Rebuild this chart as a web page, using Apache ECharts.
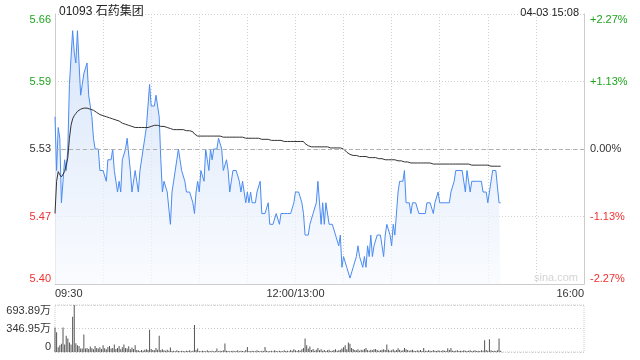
<!DOCTYPE html>
<html><head><meta charset="utf-8">
<script src="https://cdn.jsdelivr.net/npm/echarts@6/dist/echarts.min.js"></script>
<style>html,body{margin:0;padding:0;background:#fff}#c{width:640px;height:360px}</style>
</head><body><div id="c"></div>
<script>
const stockTitle = '01093 石药集团';
const stampText = '04-03 15:08';
const watermark = 'sina.com';
const prevClose = 5.53;
const priceMin = 5.4045, priceMax = 5.6555, priceStep = 0.06275;
const priceTicks = ['5.40', '5.47', '5.53', '5.59', '5.66'];
const pctTicks = ['-2.27%', '-1.13%', '0.00%', '+1.13%', '+2.27%'];
const volMax = 693.89, volStep = 346.945;
const volTicks = ['0', '346.95万', '693.89万'];
const timeLabels = { '09:30': '09:30', '12:00': '12:00/13:00', '16:00': '16:00' };

function hm(m) { const h = Math.floor(m / 60), mm = m % 60; return (h < 10 ? '0' : '') + h + ':' + (mm < 10 ? '0' : '') + mm; }
const times = [];
for (let m = 9 * 60 + 30; m <= 12 * 60; m++) times.push(hm(m));
for (let m = 13 * 60 + 1; m <= 16 * 60; m++) times.push(hm(m));

const price = [
5.56,5.51,5.55,5.54,5.48,5.48,5.52,5.51,5.53,5.59,
5.59,5.64,5.62,5.61,5.64,5.61,5.58,5.59,5.60,5.60,
5.61,5.58,5.57,5.56,5.54,5.53,5.53,5.53,5.51,5.51,
5.51,5.51,5.50,5.52,5.52,5.52,5.53,5.51,5.50,5.49,
5.50,5.49,5.52,5.52,5.53,5.54,5.54,5.51,5.49,5.49,
5.51,5.50,5.49,5.51,5.51,5.53,5.54,5.55,5.57,5.59,
5.57,5.57,5.57,5.58,5.57,5.56,5.52,5.49,5.50,5.50,
5.49,5.49,5.46,5.49,5.50,5.50,5.52,5.53,5.52,5.51,
5.51,5.50,5.49,5.49,5.49,5.49,5.48,5.47,5.49,5.50,
5.49,5.51,5.51,5.50,5.53,5.52,5.51,5.53,5.52,5.53,
5.53,5.53,5.54,5.54,5.53,5.51,5.51,5.52,5.51,5.49,
5.50,5.51,5.51,5.51,5.51,5.50,5.49,5.50,5.49,5.48,
5.49,5.48,5.49,5.48,5.48,5.48,5.49,5.49,5.50,5.47,
5.47,5.47,5.47,5.48,5.46,5.46,5.46,5.46,5.47,5.47,
5.46,5.47,5.47,5.47,5.47,5.47,5.47,5.47,5.47,5.48,
5.49,5.49,5.49,5.49,5.48,5.47,5.45,5.45,5.45,5.46,
5.46,5.47,5.47,5.48,5.50,5.48,5.46,5.48,5.46,5.48,
5.48,5.46,5.46,5.46,5.46,5.45,5.45,5.44,5.45,5.42,
5.43,5.43,5.42,5.42,5.41,5.41,5.42,5.42,5.43,5.44,
5.43,5.43,5.42,5.43,5.42,5.44,5.43,5.45,5.43,5.44,
5.44,5.45,5.45,5.45,5.44,5.43,5.45,5.46,5.46,5.45,
5.44,5.46,5.45,5.45,5.49,5.50,5.50,5.50,5.51,5.48,
5.48,5.48,5.47,5.48,5.48,5.48,5.48,5.47,5.47,5.47,
5.47,5.47,5.48,5.48,5.48,5.48,5.47,5.48,5.48,5.49,
5.48,5.48,5.48,5.48,5.48,5.48,5.48,5.49,5.49,5.50,
5.51,5.51,5.51,5.51,5.51,5.51,5.49,5.51,5.50,5.49,
5.50,5.50,5.50,5.50,5.50,5.50,5.50,5.49,5.49,5.49,
5.48,5.48,5.50,5.51,5.51,5.51,5.51,5.48,5.48
];

const avgPrice = [
5.470,5.500,5.509,5.506,5.504,5.504,5.509,5.515,5.522,5.540,
5.552,5.558,5.561,5.563,5.565,5.566,5.567,5.568,5.568,5.568,
5.568,5.568,5.567,5.567,5.566,5.565,5.564,5.563,5.562,5.562,
5.561,5.561,5.560,5.560,5.559,5.559,5.558,5.558,5.557,5.557,
5.556,5.555,5.554,5.554,5.553,5.553,5.552,5.552,5.551,5.551,
5.550,5.550,5.550,5.550,5.550,5.550,5.550,5.550,5.550,5.551,
5.551,5.551,5.552,5.552,5.552,5.552,5.551,5.551,5.551,5.551,
5.550,5.549,5.549,5.548,5.548,5.548,5.548,5.548,5.548,5.548,
5.548,5.548,5.547,5.547,5.547,5.547,5.546,5.544,5.543,5.542,
5.542,5.542,5.542,5.542,5.542,5.542,5.542,5.542,5.542,5.542,
5.542,5.542,5.542,5.542,5.542,5.541,5.541,5.541,5.541,5.541,
5.541,5.541,5.541,5.541,5.541,5.541,5.541,5.541,5.541,5.540,
5.540,5.540,5.540,5.540,5.540,5.540,5.540,5.540,5.539,5.539,
5.539,5.539,5.539,5.539,5.539,5.538,5.538,5.538,5.538,5.538,
5.538,5.538,5.538,5.537,5.537,5.537,5.537,5.537,5.537,5.537,
5.537,5.537,5.537,5.537,5.537,5.537,5.535,5.534,5.533,5.532,
5.532,5.532,5.532,5.532,5.532,5.532,5.532,5.532,5.532,5.532,
5.532,5.531,5.531,5.531,5.531,5.531,5.531,5.531,5.531,5.531,
5.530,5.529,5.527,5.526,5.525,5.524,5.524,5.524,5.524,5.523,
5.523,5.523,5.523,5.523,5.523,5.522,5.522,5.522,5.522,5.522,
5.522,5.521,5.521,5.521,5.521,5.521,5.520,5.520,5.520,5.520,
5.520,5.520,5.520,5.519,5.519,5.519,5.519,5.518,5.518,5.518,
5.518,5.517,5.517,5.517,5.517,5.517,5.517,5.517,5.517,5.517,
5.517,5.517,5.517,5.517,5.517,5.517,5.516,5.516,5.516,5.516,
5.516,5.516,5.516,5.516,5.516,5.516,5.516,5.516,5.516,5.516,
5.516,5.516,5.516,5.516,5.516,5.516,5.516,5.516,5.516,5.516,
5.515,5.515,5.515,5.515,5.515,5.515,5.515,5.515,5.515,5.515,
5.515,5.514,5.514,5.514,5.514,5.514,5.514,5.514,5.514
];

const volume = [
360,290,70,100,120,360,110,240,200,140,
110,520,694,130,100,90,50,50,260,50,
60,45,80,55,40,90,60,50,70,45,
100,55,40,75,90,50,60,110,45,60,
90,40,70,110,60,50,85,40,65,45,
100,30,25,15,30,20,35,40,30,330,
45,30,25,60,35,240,30,40,25,20,
35,20,65,15,20,10,25,15,10,20,
15,10,20,15,25,10,20,400,30,50,
15,10,20,15,10,25,15,10,20,10,
15,50,10,20,15,25,125,20,15,10,
15,20,10,15,25,10,20,15,10,30,
75,15,10,20,15,10,25,15,10,20,
15,75,20,10,15,20,10,25,15,10,
20,15,10,25,15,20,10,30,20,40,
25,15,30,20,40,60,200,100,50,80,
30,45,20,35,60,25,40,20,30,15,
25,35,15,20,30,40,20,25,35,50,
70,100,40,140,120,60,45,30,25,40,
20,35,25,45,60,30,20,35,25,40,
45,30,20,25,35,40,30,110,35,20,
25,40,20,30,55,35,20,25,60,40,
30,20,25,35,20,15,25,20,30,15,
60,20,15,25,20,15,30,20,15,25,
20,15,25,20,15,55,30,60,20,15,
20,25,15,20,15,25,20,15,20,25,
15,20,25,15,20,15,25,20,175,30,
20,190,25,15,20,15,25,200,20
];

const GREEN = '#1ea51e', RED = '#f03030', TXT = '#333';
const tickColors = [RED, RED, TXT, GREEN, GREEN];
const FONT = "'Liberation Sans', Arial, 'Noto Sans CJK SC', sans-serif";

const chart = echarts.init(document.getElementById('c'), null, { renderer: 'canvas' });
chart.setOption({
  animation: false,
  backgroundColor: '#fff',
  textStyle: { fontFamily: FONT },
  title: [
    { text: stockTitle, left: 54, top: 1, textStyle: { fontSize: 12, fontWeight: 'normal', color: '#222', fontFamily: FONT } },
    { text: stampText, right: 56, top: 2, textStyle: { fontSize: 11, fontWeight: 'normal', color: '#222', fontFamily: FONT } }
  ],
  graphic: [{
    type: 'text', right: 62, top: 272,
    style: { text: watermark, fill: '#d4d4d4', font: '11px ' + FONT }
  }],
  grid: [
    { left: 55, right: 56, top: 14, height: 270, show: false },
    { left: 55, right: 56, top: 305, height: 47, show: true, borderColor: '#ccc', borderWidth: 1, borderType: 'dotted' }
  ],
  xAxis: [
    {
      type: 'category', gridIndex: 0, data: times, boundaryGap: false,
      axisLine: { show: true, lineStyle: { color: '#ccc' } },
      axisTick: { show: false },
      axisLabel: {
        show: true, color: TXT, fontSize: 11, margin: 4, fontFamily: FONT,
        interval: (i, v) => timeLabels[v] !== undefined,
        formatter: v => timeLabels[v] || '',
        alignMinLabel: 'left', alignMaxLabel: 'right'
      },
      splitLine: {
        show: true, interval: (i) => i % 30 === 0 && i > 0 && i < times.length - 1,
        lineStyle: { color: '#cfcfcf', type: [1, 2] }
      }
    },
    {
      type: 'category', gridIndex: 1, data: times, boundaryGap: false,
      axisLine: { show: false }, axisTick: { show: false }, axisLabel: { show: false }, splitLine: { show: false }
    }
  ],
  yAxis: [
    {
      type: 'value', gridIndex: 0, min: priceMin, max: priceMax, interval: priceStep, scale: true,
      axisLine: { show: true, lineStyle: { color: '#ccc' } }, axisTick: { show: false },
      axisLabel: {
        fontSize: 11, margin: 4, fontFamily: FONT,
        formatter: (v, i) => priceTicks[i],
        color: (v, i) => tickColors[i],
        verticalAlignMinLabel: 'bottom', verticalAlignMaxLabel: 'top'
      },
      splitLine: { show: true, lineStyle: { color: '#cfcfcf', type: [1, 2] } }
    },
    {
      type: 'value', gridIndex: 0, position: 'right', min: priceMin, max: priceMax, interval: priceStep, scale: true,
      axisLine: { show: true, lineStyle: { color: '#ccc' } }, axisTick: { show: false },
      axisLabel: {
        fontSize: 11, margin: 6, fontFamily: FONT,
        formatter: (v, i) => pctTicks[i],
        color: (v, i) => tickColors[i],
        verticalAlignMinLabel: 'bottom', verticalAlignMaxLabel: 'top'
      },
      splitLine: { show: false }
    },
    {
      type: 'value', gridIndex: 1, min: 0, max: volMax, interval: volStep,
      axisLine: { show: false }, axisTick: { show: false },
      axisLabel: {
        fontSize: 11, margin: 4, color: TXT, fontFamily: FONT,
        formatter: (v, i) => volTicks[i],
        verticalAlignMinLabel: 'bottom', verticalAlignMaxLabel: 'top'
      },
      splitLine: { show: true, lineStyle: { color: '#ccc', type: [1, 2] } }
    }
  ],
  series: [
    {
      type: 'line', xAxisIndex: 0, yAxisIndex: 0, data: price, symbol: 'none', smooth: false,
      lineStyle: { color: '#4a8bf2', width: 1 },
      areaStyle: {
        origin: 'start',
        color: new echarts.graphic.LinearGradient(0, 0, 0, 1, [
          { offset: 0, color: 'rgba(200,219,248,1)' },
          { offset: 0.55, color: 'rgba(226,236,251,1)' },
          { offset: 1, color: 'rgba(248,250,254,1)' }
        ])
      },
      markLine: {
        silent: true, symbol: 'none', label: { show: false },
        lineStyle: { color: '#b0b0b0', type: [4, 3], width: 1 },
        data: [{ yAxis: prevClose }]
      },
      z: 3
    },
    {
      type: 'line', xAxisIndex: 0, yAxisIndex: 0, data: avgPrice, symbol: 'none',
      lineStyle: { color: '#333', width: 1 }, z: 4
    },
    {
      type: 'bar', xAxisIndex: 1, yAxisIndex: 2, data: volume, barWidth: 1,
      itemStyle: { color: '#555' }
    }
  ]
});
</script></body></html>
